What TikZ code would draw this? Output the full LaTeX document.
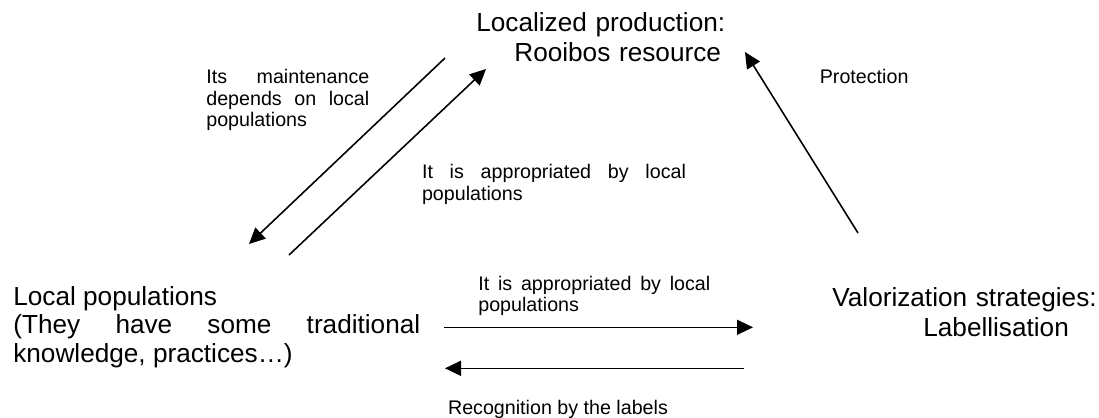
\documentclass[tikz,border=0pt]{standalone}
\usepackage{fontspec}
\setmainfont{Liberation Sans}
\usetikzlibrary{arrows.meta,positioning}

\begin{document}
\begin{tikzpicture}[
        x=0.02cm,
        y=-0.02cm,
        bigtext/.style={
            inner sep=0pt,
            anchor=base west,
            align=left,
            font=\fontsize{14.9}{17.2}\selectfont
        },
        smalltext/.style={
            inner sep=0pt,
            anchor=base west,
            align=justify,
            font=\fontsize{11.2}{12.35}\selectfont
        },
        arrow/.style={
            -{Triangle[length=0.32cm,width=0.3cm]},
            line width=0.9pt
        }
    ]
    \useasboundingbox (0,0) rectangle (1099,417);
    % Main nodes
    \node[bigtext, text width=5.4cm] (prod) at (476,31.7) {
        Localized production:\\\hspace*{0.76cm}Rooibos resource};
    \node[bigtext, text width=8.14cm, align=justify,
        font=\fontsize{14.9}{16.3}\selectfont] (lp) at (13,305) {
        Local populations\\(They have some traditional\linebreak
        knowledge, practices…)};
    \node[bigtext, text width=5.4cm] (valor) at (832,306) {
        Valorization strategies:\\\hspace*{1.82cm}Labellisation};
    % Labels
    \node[smalltext, text width=3.26cm] (maint) at (206,83.3) {
        Its maintenance\linebreak depends on local\linebreak populations};
    \node[smalltext, text width=5.28cm] (approp_up) at (421.7,178.3) {
        It is appropriated by local\linebreak populations};
    \node[smalltext] (prot) at (819.5,83.3) {Protection};
    \node[smalltext, text width=4.64cm] (approp_down) at (478,290) {
        It is appropriated by local\linebreak populations};
    \node[smalltext] (recog) at (447.7,414.3) {Recognition by the labels};
    % Arrow ends
    \coordinate (prod_a) at (445,58);
    \coordinate (lp_a) at (249,244);
    \coordinate (lp_b) at (289,255);
    \coordinate (prod_b) at (486,69);
    \coordinate (valor_n) at (858,233);
    \coordinate (prod_e) at (745,52);
    \coordinate (lp_e1) at (444,327.3);
    \coordinate (valor_w1) at (753,327.3);
    \coordinate (valor_w2) at (744,368.3);
    \coordinate (lp_e2) at (445,368.3);
    % Connections
    \draw[arrow] (prod_a) -- (lp_a);
    \draw[arrow] (lp_b) -- (prod_b);
    \draw[arrow] (valor_n) -- (prod_e);
    \draw[arrow] (lp_e1) -- (valor_w1);
    \draw[arrow] (valor_w2) -- (lp_e2);
\end{tikzpicture}
\end{document}
